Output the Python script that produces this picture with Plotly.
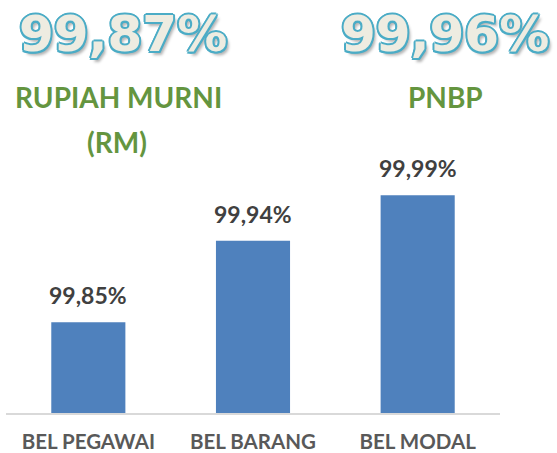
import plotly.graph_objects as go

categories = ["BEL PEGAWAI", "BEL BARANG", "BEL MODAL"]
values = [99.85, 99.94, 99.99]
headline_rm = "99,87%"
headline_pnbp = "99,96%"
label_rm_1 = "RUPIAH MURNI"
label_rm_2 = "(RM)"
label_pnbp = "PNBP"

W, H = 557, 453
L, R, T, B = 6, 57, 0, 40

def px(x):
    return (x - L) / (W - L - R)

def py(y):
    return (H - B - y) / (H - T - B)

fig = go.Figure()
fig.add_trace(go.Bar(
    x=categories, y=values,
    marker=dict(color="#4F81BD", line=dict(width=0)),
    hoverinfo="skip",
))

for c, v in zip(categories, values):
    fig.add_annotation(
        x=c, y=v, xref="x", yref="y",
        text=f"{v:.2f}%".replace(".", ","),
        showarrow=False, yanchor="bottom", yshift=11,
        font=dict(family="Lato", size=23, color="#404040", weight="bold"),
    )

outline = "#4BACC6"
shadow = ", ".join([
    f"{dx}px {dy}px 0 {outline}" for dx, dy in
    [(2, 0), (-2, 0), (0, 2), (0, -2), (1.5, 1.5), (-1.5, 1.5), (1.5, -1.5), (-1.5, -1.5)]
] + ["3px 4px 3px rgba(0,0,0,0.3)"])

for txt, cx, cy in [(headline_rm, 123, 34), (headline_pnbp, 445, 34)]:
    fig.add_annotation(
        x=px(cx), y=py(cy), xref="paper", yref="paper",
        text=txt, showarrow=False, xanchor="center", yanchor="middle",
        font=dict(family="DejaVu Sans", size=50, color="#EEECE1", weight="bold",
                  shadow=shadow),
    )

green = dict(family="Lato", size=28, color="#64953F", weight="bold")
for txt, cx, cy in [(label_rm_1, 118, 97), (label_rm_2, 117, 142), (label_pnbp, 445, 97)]:
    fig.add_annotation(
        x=px(cx), y=py(cy), xref="paper", yref="paper",
        text=txt, showarrow=False, xanchor="center", yanchor="middle",
        font=green,
    )

fig.update_layout(
    width=W, height=H,
    margin=dict(l=L, r=R, t=T, b=B, pad=0),
    paper_bgcolor="white", plot_bgcolor="white",
    bargap=0.55, showlegend=False,
    xaxis=dict(
        showline=True, linecolor="#D9D9D9", linewidth=1.5,
        ticks="outside", ticklen=10, tickcolor="rgba(0,0,0,0)",
        tickfont=dict(family="Lato", size=20.5, color="#595959", weight="bold"),
        automargin=False, showgrid=False, zeroline=False,
    ),
    yaxis=dict(
        range=[99.75, 99.75 + (H - B - T) / 907.0],
        visible=False, showgrid=False, zeroline=False,
    ),
)

fig.write_html("out.html", config={"displayModeBar": False},
               post_script="document.body.style.margin='0';")
